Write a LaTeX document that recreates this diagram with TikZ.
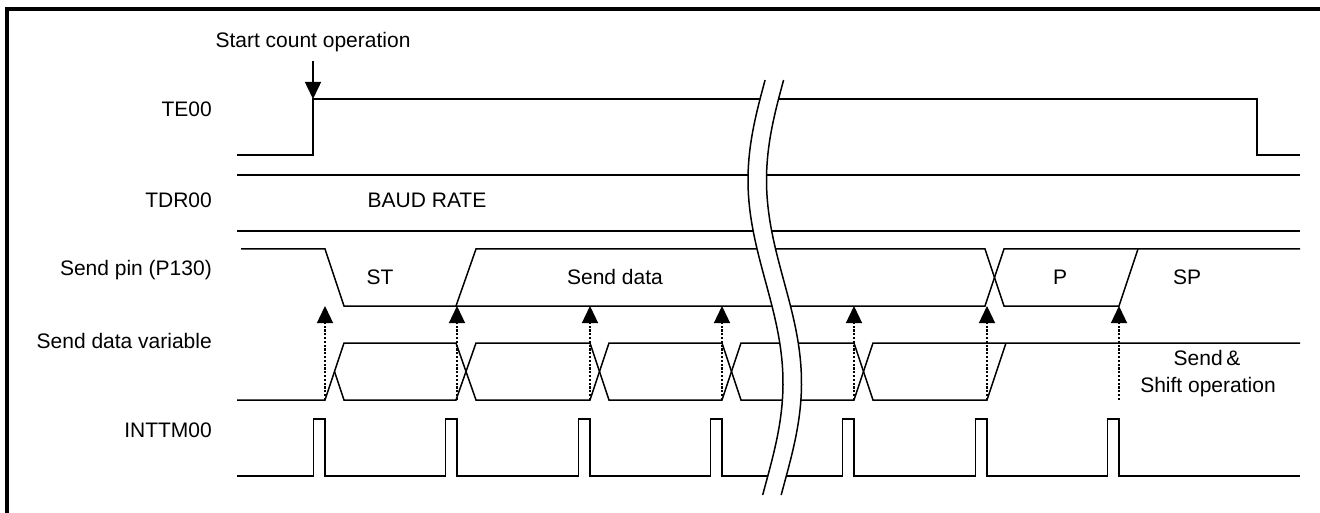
\documentclass[tikz,border=0pt]{standalone}
\usepackage{fontspec}
\setmainfont{Liberation Sans}
\usetikzlibrary{arrows.meta}
\tikzset{every node/.style={font=\fontsize{21}{25}\selectfont},
         signal/.style={line width=1.5pt},
         sig label/.style={anchor=base east,inner sep=0pt},
         txt/.style={anchor=base,inner sep=0pt},
         trigger/.style={->,line width=1.3pt,dash pattern=on 2.2pt off 1.6pt},
         >={Triangle[length=17pt,width=16pt]}}

\begin{document}
\begin{tikzpicture}[x=1pt,y=-1pt]
        \useasboundingbox (0,0) rectangle (1320,513);
        \draw[line width=3.5pt] (7,513) -- (7,9) -- (1320,9);

        \node[sig label](te)at(212,117){TE00};
        \node[sig label](tdr)at(212,208){TDR00};
        \node[sig label](pin)at(212,275){Send pin (P130)};
        \node[sig label](var)at(212,348){Send data variable};
        \node[sig label](intr)at(212,437){INTTM00};

        \draw[signal](237,155) -| (313,99) -| (1257,155) -- (1300,155);
        \draw[signal](237,175) -- (1300,175) (237,231) -- (1300,231);
        \draw[signal](241,249) -- (325,249) -- (344,306) -- (985,306) -- (1004,249) -- (1300,249);
        \draw[signal](456,306) -- (476,249) -- (985,249) -- (1004,306) -- (1119,306) -- (1138,249);
        \draw[signal](237,400) -- (325,400) -- (344,343) -- (456,343) -- (476,400) -- (590,400) -- (609,343)
            -- (722,343) -- (741,400) -- (854,400) -- (873,343) -- (1300,343);
        \draw[signal](334.5,371.5) -- (344,400) -- (456,400) -- (476,343) -- (590,343) -- (609,400)
            -- (722,400) -- (741,343) -- (854,343) -- (873,400) -- (987,400) -- (1006,343);
        \draw[signal](237,476) -| (313.5,419) -| (325,476) -| (445.5,419) -| (457,476) -| (578.5,419) -| (590,476)
            -| (710.5,419) -| (722,476) -| (842.5,419) -| (854,476) -| (975.5,419) -| (987,476)
            -| (1107.5,419) -| (1119,476) -- (1300,476);

        % break
        \fill[white] plot[variable=\t,domain=80:495,samples=80]({765.5-17.5*cos((\t-180)*0.8867)},\t)
            -- plot[variable=\t,domain=495:80,samples=80]({784-17.5*cos((\t-180)*0.8867)},\t) -- cycle;
        \draw[signal] plot[variable=\t,domain=80:495,samples=80]({765.5-17.5*cos((\t-180)*0.8867)},\t);
        \draw[signal] plot[variable=\t,domain=80:495,samples=80]({784-17.5*cos((\t-180)*0.8867)},\t);

        \node[txt](start)at(313,48){Start count operation};
        \coordinate(terise)at(313,99);
        \draw[->,line width=1.5pt]([yshift=-13pt]start.base)--(terise);

        \node[txt](baud)at(427,208){BAUD RATE};
        \node[txt](st)at(380,284){ST};
        \node[txt](data)at(615,284){Send data};
        \node[txt](par)at(1060,284){P};
        \node[txt](stop)at(1187,284){SP};
        \node[txt](op1)at(1207,365){Send\,\&};
        \node[txt](op2)at(1208,392){Shift operation};

        \foreach \x [count=\i] in {325,457,590,722,854,987,1119}{
            \coordinate(src\i)at(\x,400);
            \coordinate(dst\i)at(\x,306);
            \draw[trigger](src\i)--(dst\i);
        }
    \end{tikzpicture}
\end{document}
